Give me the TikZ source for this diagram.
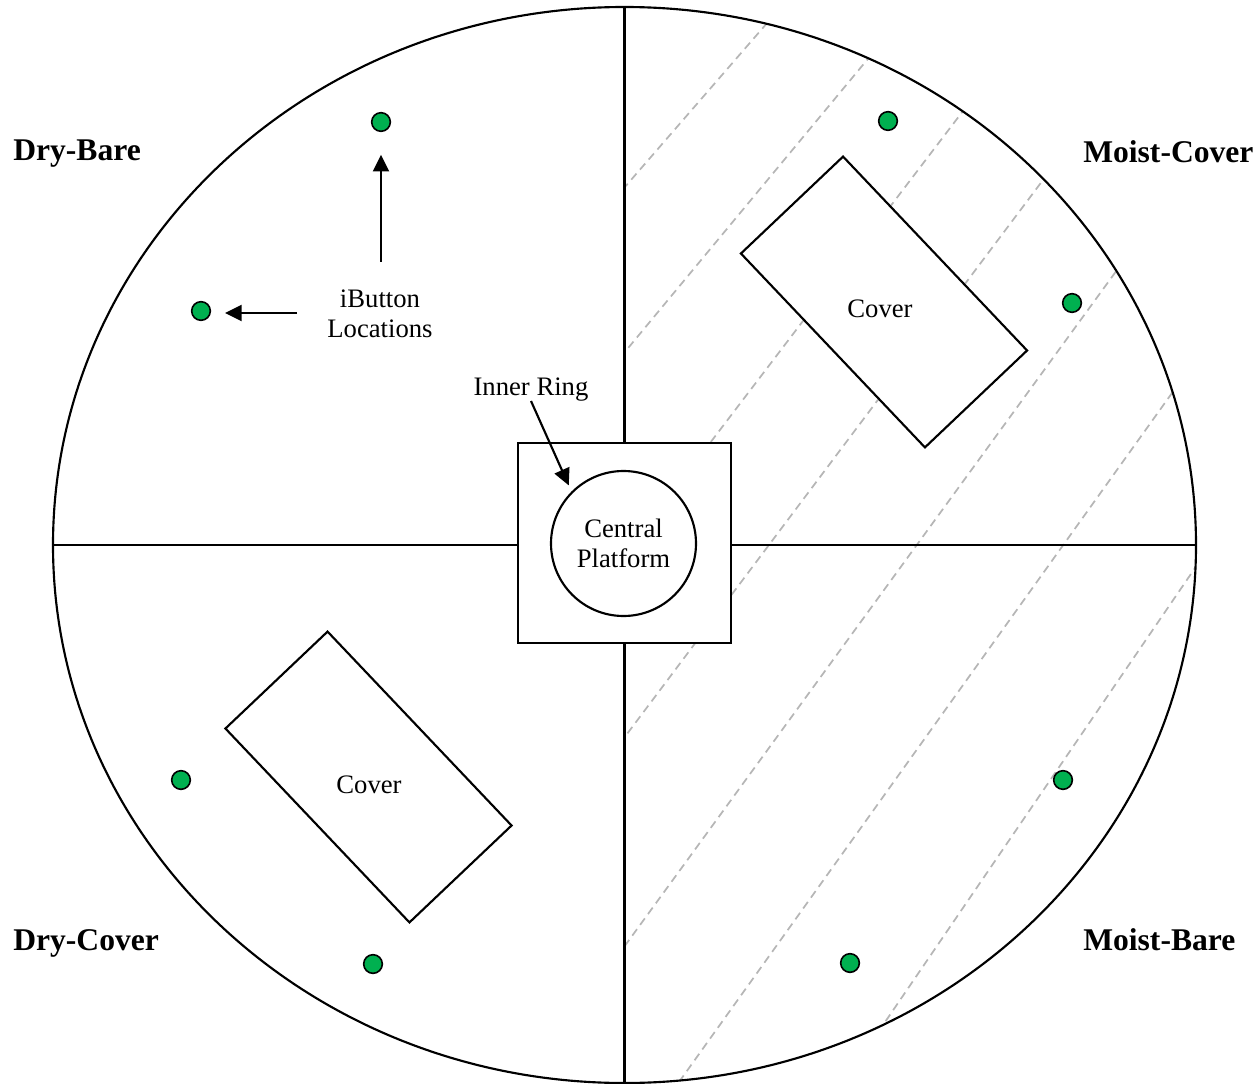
\documentclass[tikz,border=0pt]{standalone}
\usepackage{fontspec}
\setmainfont{Liberation Serif}
\usetikzlibrary{arrows.meta,calc,shapes.geometric}
\definecolor{dotgreen}{RGB}{0,176,80}
\definecolor{hatchgray}{RGB}{182,182,182}
\begin{document}
\begin{tikzpicture}[x=0.75pt,y=-0.75pt,
  outline/.style={line width=1.6pt},
  hatch/.style={draw=hatchgray,line width=1.3pt,dash pattern=on 6pt off 4pt},
  sensor/.style={circle,draw,fill=dotgreen,line width=1.2pt,minimum size=14pt,inner sep=0pt},
  cover/.style={rectangle,draw,fill=white,line width=1.6pt,minimum width=200.5pt,minimum height=105.6pt,inner sep=0pt,rotate=-46.5},
  plain/.style={font=\fontsize{20}{22.5}\selectfont,inner sep=0pt},
  zone/.style={font=\fontsize{23.7}{26}\selectfont\bfseries,inner sep=0pt,anchor=base west},
  pointer/.style={line width=1.6pt,-{Triangle[length=12.5pt,width=12pt]}},
]
\useasboundingbox (0,0) rectangle (1260,1084);

% hatching of the moist half
\begin{scope}
  \clip (624.5,0) rectangle (1260,1084);
  \clip (624.5,545) ellipse [x radius=571.5,y radius=538];
  \foreach \ax/\ay/\bx/\by in {768/22/624/188, 867/60/624/353, 963/111/710/443,
      1043/180/624/738, 1117/270/624/947, 1172/393/679/1082, 1195/568/883/1025}
    \draw[hatch] ($(\ax,\ay)!-0.3!(\bx,\by)$) -- ($(\ax,\ay)!1.3!(\bx,\by)$);
\end{scope}

% plot outline
\node[ellipse,draw,outline,minimum width=857.25pt,minimum height=807pt,inner sep=0pt]
  (field) at (624.5,545) {};

% central platform
\node[rectangle,draw,fill=white,outline,minimum width=159.75pt,minimum height=150pt,inner sep=0pt]
  (sq) at (624.5,543) {};
\node[circle,draw,outline,minimum size=108.75pt,inner sep=0pt,plain,align=center]
  (plat) at (623.5,543.5) {Central\\Platform};

% quadrant dividers
\draw[outline] (field.north) -- (sq.north);
\draw[outline] (sq.south) -- (field.south);
\draw[outline] (field.west) -- (field.west -| sq.west);
\draw[outline] (field.east -| sq.east) -- (field.east);

% covers
\node[cover] (coverNE) at (884,302) {};
\node[cover] (coverSW) at (368.5,777) {};
\node[plain] (coverNEtext) at (880,309) {Cover};
\node[plain] (coverSWtext) at (369,785) {Cover};

% zone labels
\node[zone] (dryBare) at (13,161) {Dry-Bare};
\node[zone] (moistCover) at (1083,163) {Moist-Cover};
\node[zone] (dryCover) at (13,950) {Dry-Cover};
\node[zone] (moistBare) at (1083,950) {Moist-Bare};

% iButton sensors
\node[sensor] (s1) at (381,122) {};
\node[sensor] (s2) at (201,311) {};
\node[sensor] (s3) at (888,121) {};
\node[sensor] (s4) at (1072,303) {};
\node[sensor] (s5) at (181,780) {};
\node[sensor] (s6) at (373,964) {};
\node[sensor] (s7) at (850,963) {};
\node[sensor] (s8) at (1063,780) {};

% annotations
\node[plain,align=center] (ibutton) at (380,314) {iButton\\Locations};
\coordinate (upTail) at (381,262);
\coordinate (leftTail) at (297,313);
\draw[pointer,shorten >=17pt] (upTail) -- (s1);
\draw[pointer,shorten >=18pt] (leftTail) -- (leftTail -| s2);

\node[plain,anchor=base] (ring) at (531,395) {Inner Ring};
\draw[pointer,shorten >=5pt] (ring.south) -- (plat.135);
\end{tikzpicture}
\end{document}
